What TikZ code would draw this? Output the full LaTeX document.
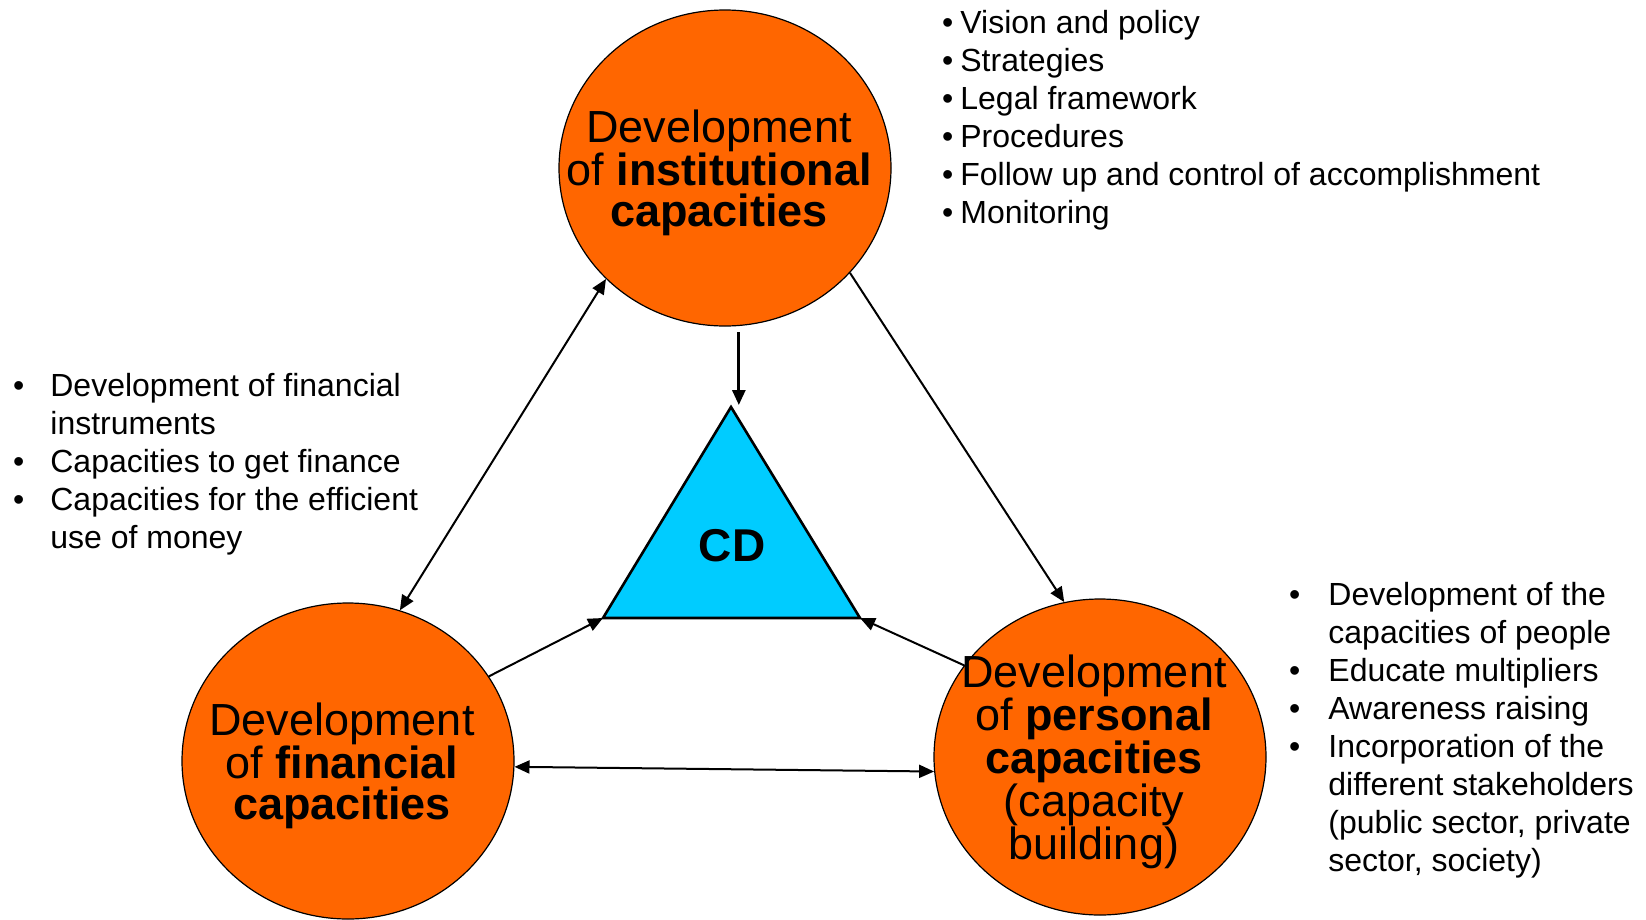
\documentclass[tikz,border=0pt]{standalone}
\usepackage{fontspec}
\setmainfont{Liberation Sans}
\usetikzlibrary{arrows.meta,shapes.geometric}
\definecolor{orbfill}{HTML}{FF6600}
\definecolor{cdblue}{HTML}{00CCFF}
\begin{document}
\begin{tikzpicture}[x=1pt,y=-1pt,>={Triangle[length=15pt,width=13pt]},
  orb/.style={ellipse,draw,line width=1.2pt,fill=orbfill,
    minimum width=332pt,minimum height=316pt,inner sep=0pt},
  orbtext/.style={align=center,inner sep=0pt,xshift=-6pt,yshift=-5pt,
    font=\fontsize{45}{41}\selectfont},
  link/.style={line width=2pt,->},
  notes/.style={anchor=base west,inner sep=0pt,font=\fontsize{32}{38}\selectfont}]
  \useasboundingbox (0,0) rectangle (1646,919);
  \node[orb] (inst) at (725,168) {};
  \node[orb] (fin)  at (348,761) {};
  \node[orb] (pers) at (1100,757) {};
  \coordinate (apex)  at (731,407);
  \coordinate (cdl)   at (603,618);
  \coordinate (cdr)   at (860,618);
  \coordinate (cdtip) at (739,405);
  \filldraw[fill=cdblue,line width=2.6pt] (apex) -- (cdr) -- (cdl) -- cycle;
  \node[font=\fontsize{46}{46}\selectfont\bfseries] (cd) at (732,546) {CD};
  \node[orbtext] (insttext) at (inst) {Development\\of \textbf{institutional}\\\textbf{capacities}};
  \node[orbtext] (fintext)  at (fin)  {Development\\of \textbf{financial}\\\textbf{capacities}};
  \node[orbtext] (perstext) at (pers) {Development\\of \textbf{personal}\\\textbf{capacities}\\(capacity\\building)};
  \draw[link,<->] (inst.223) -- (fin.71);
  \draw[link] (inst.320) -- (pers.103);
  \draw[link,line width=2.8pt,shorten <=6pt] (inst.275) -- (inst.275 |- cdtip);
  \draw[link] (fin.31) -- (cdl);
  \draw[link] (pers.146) -- (cdr);
  \draw[link,<->] (fin.358) -- (pers.185);
  \node[notes] (instnotes) at (942,33) {\begin{tabular}[t]{@{}l@{\hspace{7pt}}l@{}}
    \textbullet & Vision and policy\\
    \textbullet & Strategies\\
    \textbullet & Legal framework\\
    \textbullet & Procedures\\
    \textbullet & Follow up and control of accomplishment\\
    \textbullet & Monitoring
  \end{tabular}};
  \node[notes] (finnotes) at (13,396) {\begin{tabular}[t]{@{}l@{\hspace{26pt}}l@{}}
    \textbullet & Development of financial\\
                & instruments\\
    \textbullet & Capacities to get finance\\
    \textbullet & Capacities for the efficient\\
                & use of money
  \end{tabular}};
  \node[notes] (persnotes) at (1289,605) {\begin{tabular}[t]{@{}l@{\hspace{28pt}}l@{}}
    \textbullet & Development of the\\
                & capacities of people\\
    \textbullet & Educate multipliers\\
    \textbullet & Awareness raising\\
    \textbullet & Incorporation of the\\
                & different stakeholders\\
                & (public sector, private\\
                & sector, society)
  \end{tabular}};
\end{tikzpicture}
\end{document}
